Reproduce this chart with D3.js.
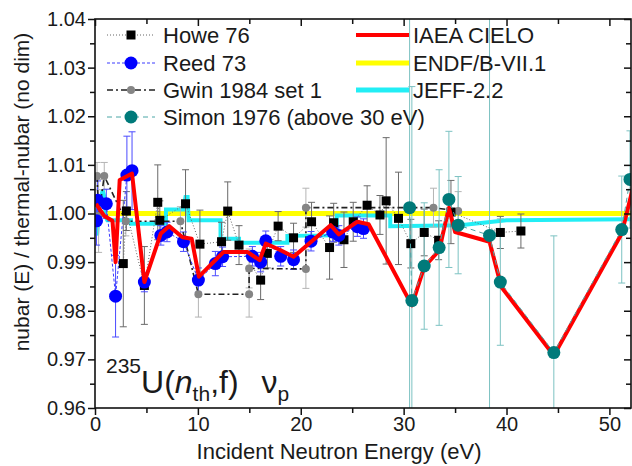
<!DOCTYPE html>
<meta charset="utf-8">
<style>
  body { margin: 0; background: #fff; }
  text { font-family: "Liberation Sans", Arial, sans-serif; fill: #1a1a1a; }
</style>
<svg width="632" height="466"></svg>
<script src="https://d3js.org/d3.v7.min.js"></script>
<script>

var svg = d3.select("svg"),
    width = +svg.attr("width"),
    height = +svg.attr("height");

var x = d3.scaleLinear().domain([0, 52.1]).range([95, 631]),
    y = d3.scaleLinear().domain([0.96, 1.04]).range([408, 19]);

// [E (eV), nubar ratio, error]
var howe = [
  [2.75, 0.9897, 0.013], [3.05, 1.0005, 0.004], [4.8, 0.9852, 0.008],
  [6.1, 1.0023, 0.0077], [6.3, 0.9986, 0.004], [8.8, 1.002, 0.007],
  [10.2, 0.9937, 0.007], [12.3, 0.9942, 0.004], [12.9, 1.0005, 0.006],
  [14.0, 0.9935, 0.004], [16.1, 0.9863, 0.004], [16.75, 0.9918, 0.003],
  [17.8, 0.9974, 0.003], [19.3, 0.995, 0.003], [21.05, 0.9983, 0.004],
  [22.8, 0.993, 0.0065], [23.2, 0.9981, 0.004], [24.2, 0.9946, 0.0057],
  [25.1, 0.9983, 0.004], [26.45, 1.0017, 0.004], [27.7, 0.9997, 0.004],
  [28.3, 1.0026, 0.013], [29.5, 0.999, 0.0095], [30.7, 0.9938, 0.005],
  [32.0, 0.9961, 0.0048], [33.4, 0.9945, 0.004], [34.6, 1.0003, 0.0065],
  [39.4, 0.9961, 0.0033], [41.4, 0.9964, 0.0035]
];

var reed = [
  [0.15, 0.9985, 0.005], [0.25, 1.0027, 0.004], [1.1, 1.002, 0.003],
  [2.0, 0.983, 0.0084], [3.1, 1.0079, 0.008], [3.6, 1.0088, 0.008],
  [4.8, 0.9859, 0.002], [6.4, 0.9955, 0.002], [7.0, 0.9962, 0.002],
  [8.6, 0.9942, 0.002], [10.05, 0.9863, 0.0025], [11.7, 0.9897, 0.0025],
  [12.4, 0.9911, 0.002], [15.3, 0.9912, 0.002], [16.1, 0.99, 0.002],
  [16.6, 0.9944, 0.002], [18.05, 0.9912, 0.002], [19.3, 0.9905, 0.002],
  [21.0, 0.9943, 0.002], [23.1, 0.9962, 0.002], [23.7, 0.9955, 0.002],
  [25.5, 0.9973, 0.002], [26.1, 0.9969, 0.002]
];

var gwin = [
  [0.2, 1.0077, 0.0028], [0.35, 0.9995, 0.0075], [0.9, 1.0077, 0.0028],
  [3.0, 0.9984, 0.003], [8.3, 0.9984, 0.003],
  [10.05, 0.9834, 0.0047], [14.98, 0.9834, 0.0047],
  [14.98, 0.9887, 0.004], [20.5, 0.9886, 0.004],
  [20.5, 1.0012, 0.004], [32.9, 1.0012, 0.004], [35.3, 1.0005, 0.004]
];

var simon = [
  [30.58, 1.0012, 0.05], [30.8, 0.9821, 0.044], [32.0, 0.9892, 0.013],
  [33.45, 0.993, 0.016], [34.4, 1.0029, 0.014], [35.3, 0.9976, 0.010],
  [38.35, 0.9955, 0.05], [39.4, 0.9859, 0.013], [44.6, 0.9714, 0.024],
  [51.2, 0.9967, 0.011], [52.0, 1.007, 0.01]
];

var cieloE = [0.1, 0.9, 1.7, 2.0, 2.4, 3.6, 4.8, 6.4, 7.2, 8.5, 9.4, 10.1, 12.5,
  14.8, 16.0, 16.6, 18.0, 19.3, 22.9, 23.7, 25.5, 26.6, 30.8, 32.0, 33.45,
  34.4, 35.0, 38.35, 39.5, 44.6, 51.2, 52.6];
var cieloV = [1.002, 0.9995, 0.9985, 0.990, 1.0069, 1.0082, 0.9859, 0.9959,
  0.9974, 0.9951, 0.9948, 0.987, 0.9921, 0.9921, 0.9904, 0.9938, 0.9925,
  0.9911, 0.9976, 0.9957, 0.9983, 0.9978, 0.9811, 0.989, 0.9924, 1.0012,
  0.9962, 0.9942, 0.9849, 0.9708, 0.9959, 1.008];

var endfE = [0.6, 52.1];
var endfV = [1.0, 1.0];

var jeffE = [0.05, 0.2, 0.45, 0.6, 0.75, 0.9, 1.05, 1.2, 3.5, 3.5, 6.9, 6.9,
  8.6, 8.8, 9.0, 9.1, 12.2, 12.2, 14.0, 14.0, 18.7, 18.7, 23.5, 23.5, 28.7,
  28.7, 35.5, 40, 52.1];
var jeffV = [0.9975, 0.9955, 1.002, 1.0034, 1.0048, 1.0035, 0.9993, 0.9986,
  0.9986, 0.9979, 0.9979, 1.0008, 1.0008, 1.0034, 1.0034, 0.9986, 0.9986,
  0.9948, 0.9948, 0.994, 0.994, 0.9954, 0.9955, 0.9996, 0.9996, 0.9974,
  0.9976, 0.9986, 0.9988];

var xMajor = [0, 10, 20, 30, 40, 50],
    xMinor = [5, 15, 25, 35, 45],
    yMajor = [0.96, 0.97, 0.98, 0.99, 1.00, 1.01, 1.02, 1.03, 1.04],
    yMinor = [0.965, 0.975, 0.985, 0.995, 1.005, 1.015, 1.025, 1.035];

var x0 = x.range()[0], x1 = x.range()[1],
    y0 = y.range()[0], y1 = y.range()[1];

svg.append("clipPath").attr("id", "clip")
  .append("rect")
    .attr("x", x0).attr("y", y1)
    .attr("width", x1 - x0).attr("height", y0 - y1);

var plot = svg.append("g").attr("clip-path", "url(#clip)");

var line = d3.line().x(function(d) { return x(d[0]); }).y(function(d) { return y(d[1]); });
function zip(a, b) { return a.map(function(v, i) { return [v, b[i]]; }); }

function errorBars(data, color, cap) {
  var g = plot.append("g").attr("stroke", color).attr("stroke-width", 1).attr("fill", "none");
  data.forEach(function(d) {
    var cx = x(d[0]), lo = y(d[1] - d[2]), hi = y(d[1] + d[2]);
    g.append("line").attr("x1", cx).attr("x2", cx).attr("y1", lo).attr("y2", hi);
    g.append("line").attr("x1", cx - cap).attr("x2", cx + cap).attr("y1", lo).attr("y2", lo);
    g.append("line").attr("x1", cx - cap).attr("x2", cx + cap).attr("y1", hi).attr("y2", hi);
  });
}

// evaluations underneath
plot.append("path").datum(zip(endfE, endfV)).attr("d", line)
  .attr("fill", "none").attr("stroke", "#ffff00").attr("stroke-width", 5);
plot.append("path").datum(zip(jeffE, jeffV)).attr("d", line)
  .attr("fill", "none").attr("stroke", "#22eef5").attr("stroke-width", 4);

// error bars
errorBars(gwin, "#b4b4b4", 3.5);
errorBars(howe, "#6a6a6a", 3.5);
errorBars(reed, "#4a4aff", 3.5);
errorBars(simon, "#7cc2c2", 3.5);

// connecting lines
plot.append("path").datum(howe).attr("d", line).attr("fill", "none")
  .attr("stroke", "#666").attr("stroke-width", 1).attr("stroke-dasharray", "1,2");
plot.append("path").datum(gwin).attr("d", line).attr("fill", "none")
  .attr("stroke", "#222").attr("stroke-width", 1.6).attr("stroke-dasharray", "6,3,2,3");
plot.append("path").datum(reed).attr("d", line).attr("fill", "none")
  .attr("stroke", "#3a3aff").attr("stroke-width", 1).attr("stroke-dasharray", "3,2");

// markers
plot.append("g").selectAll("circle").data(gwin).join("circle")
  .attr("cx", function(d) { return x(d[0]); }).attr("cy", function(d) { return y(d[1]); })
  .attr("r", 4).attr("fill", "#858585");
plot.append("g").selectAll("rect").data(howe).join("rect")
  .attr("x", function(d) { return x(d[0]) - 4.5; }).attr("y", function(d) { return y(d[1]) - 4.5; })
  .attr("width", 9).attr("height", 9).attr("fill", "#000");
plot.append("g").selectAll("circle").data(reed).join("circle")
  .attr("cx", function(d) { return x(d[0]); }).attr("cy", function(d) { return y(d[1]); })
  .attr("r", 6.5).attr("fill", "#0000ff");

plot.append("path").datum(zip(cieloE, cieloV)).attr("d", line)
  .attr("fill", "none").attr("stroke", "#ff0000").attr("stroke-width", 4)
  .attr("stroke-linejoin", "round");

plot.append("path").datum(simon).attr("d", line).attr("fill", "none")
  .attr("stroke", "#4aa6a6").attr("stroke-width", 1).attr("stroke-dasharray", "5,4");
plot.append("g").selectAll("circle").data(simon).join("circle")
  .attr("cx", function(d) { return x(d[0]); }).attr("cy", function(d) { return y(d[1]); })
  .attr("r", 6.5).attr("fill", "#007a7a");

// axes
var axes = svg.append("g");
axes.append("g").attr("transform", "translate(0," + y0 + ")")
  .call(d3.axisBottom(x).tickValues(xMajor).tickSize(7).tickPadding(2).tickFormat(d3.format("d")));
axes.append("g").attr("transform", "translate(0," + y0 + ")")
  .call(d3.axisBottom(x).tickValues(xMinor).tickSize(5).tickFormat(""));
axes.append("g").attr("transform", "translate(" + x0 + ",0)")
  .call(d3.axisLeft(y).tickValues(yMajor).tickSize(7).tickPadding(2).tickFormat(d3.format(".2f")));
axes.append("g").attr("transform", "translate(" + x0 + ",0)")
  .call(d3.axisLeft(y).tickValues(yMinor).tickSize(5).tickFormat(""));
axes.append("g").attr("transform", "translate(0," + y1 + ")")
  .call(d3.axisBottom(x).tickValues(xMajor).tickSize(7).tickFormat(""));
axes.append("g").attr("transform", "translate(0," + y1 + ")")
  .call(d3.axisBottom(x).tickValues(xMinor).tickSize(5).tickFormat(""));
axes.append("g").attr("transform", "translate(" + x1 + ",0)")
  .call(d3.axisLeft(y).tickValues(yMajor).tickSize(7).tickFormat(""));
axes.append("g").attr("transform", "translate(" + x1 + ",0)")
  .call(d3.axisLeft(y).tickValues(yMinor).tickSize(5).tickFormat(""));
axes.selectAll(".domain").remove();
axes.selectAll(".tick line").attr("stroke", "#111").attr("stroke-width", 1.5);
axes.selectAll(".tick text").attr("font-size", 20).attr("fill", "#1a1a1a");

svg.append("rect").attr("x", x0).attr("y", y1)
  .attr("width", x1 - x0).attr("height", y0 - y1)
  .attr("fill", "none").attr("stroke", "#111").attr("stroke-width", 1.6);

// axis titles
svg.append("text").attr("x", 339).attr("y", 459).attr("text-anchor", "middle")
  .attr("font-size", 22).text("Incident Neutron Energy (eV)");
svg.append("text").attr("transform", "translate(29,192) rotate(-90)")
  .attr("text-anchor", "middle").attr("font-size", 21)
  .text("nubar (E) / thermal-nubar (no dim)");

// reaction label
var lab = svg.append("text").attr("x", 106).attr("y", 393).attr("font-size", 32);
lab.append("tspan").attr("font-size", 21).attr("dy", -20).text("235");
lab.append("tspan").attr("dy", 20).text("U(");
lab.append("tspan").attr("font-style", "italic").text("n");
lab.append("tspan").attr("font-size", 21).attr("dy", 8).text("th");
lab.append("tspan").attr("dy", -8).text(",f)");
lab.append("tspan").attr("dx", 23).text("\u03bd");
lab.append("tspan").attr("font-size", 21).attr("dy", 8).text("p");

// legend
var legLeft = svg.append("g");
var legRows = [
  {name: "Howe 76", y: 35, stroke: "#666", dash: "1,2", w: 1, mark: "rect", fill: "#000"},
  {name: "Reed 73", y: 63, stroke: "#3a3aff", dash: "3,2", w: 1, mark: "circle", r: 6.5, fill: "#0000ff"},
  {name: "Gwin 1984 set 1", y: 90, stroke: "#222", dash: "6,3,2,3", w: 1.6, mark: "circle", r: 4, fill: "#858585"},
  {name: "Simon 1976 (above 30 eV)", y: 117, stroke: "#4aa6a6", dash: "5,4", w: 1, mark: "circle", r: 6.5, fill: "#007a7a"}
];
legRows.forEach(function(d) {
  legLeft.append("line").attr("x1", 107).attr("x2", 155).attr("y1", d.y).attr("y2", d.y)
    .attr("stroke", d.stroke).attr("stroke-width", d.w).attr("stroke-dasharray", d.dash);
  if (d.mark === "rect") {
    legLeft.append("rect").attr("x", 126.5).attr("y", d.y - 4.5).attr("width", 9).attr("height", 9).attr("fill", d.fill);
  } else {
    legLeft.append("circle").attr("cx", 131).attr("cy", d.y).attr("r", d.r).attr("fill", d.fill);
  }
  legLeft.append("text").attr("x", 163).attr("y", d.y + 8).attr("font-size", 22).text(d.name);
});

var legRight = [
  {name: "IAEA CIELO", y: 35, color: "#ff0000", w: 4},
  {name: "ENDF/B-VII.1", y: 63, color: "#ffff00", w: 5},
  {name: "JEFF-2.2", y: 90, color: "#22eef5", w: 5}
];
legRight.forEach(function(d) {
  svg.append("line").attr("x1", 356).attr("x2", 409).attr("y1", d.y).attr("y2", d.y)
    .attr("stroke", d.color).attr("stroke-width", d.w);
  svg.append("text").attr("x", 413).attr("y", d.y + 8).attr("font-size", 22).text(d.name);
});

</script>
